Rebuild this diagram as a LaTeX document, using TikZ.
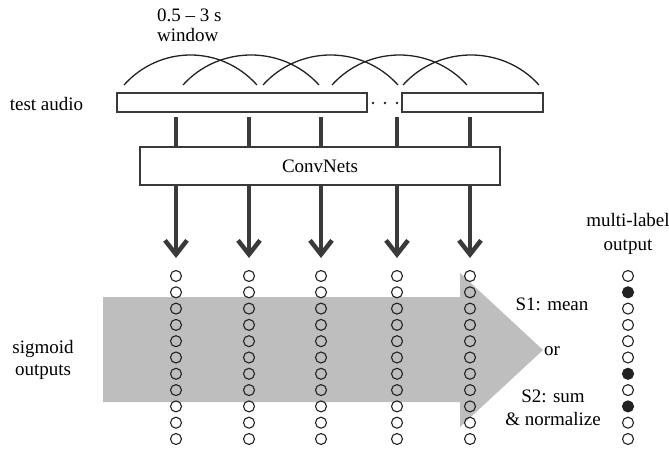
\documentclass[tikz,border=0pt]{standalone}
\usepackage{fontspec}
\setmainfont{Liberation Serif}
\usetikzlibrary{arrows.meta}
\definecolor{lineg}{HTML}{3A3A3A}
\definecolor{arrowgray}{HTML}{BEBEBE}
\definecolor{dotink}{HTML}{222222}
\begin{document}
\begin{tikzpicture}[x=1pt,y=-1pt,
  lbl/.style={font=\fontsize{19}{21}\selectfont, inner sep=0pt, anchor=base, text=black},
  boxstyle/.style={draw=lineg, line width=2pt, fill=white, inner sep=0pt},
  feed/.style={draw=lineg, line width=4.5pt},
  outarrow/.style={draw=lineg, line width=4.5pt, -{Straight Barb[length=14pt,width=22pt]}},
  arcline/.style={draw=dotink, line width=1.3pt},
  dot/.style={circle, draw=dotink, line width=1.1pt, minimum size=11pt, inner sep=0pt},
  hotdot/.style={dot, fill=dotink}
]
\useasboundingbox (0,0) rectangle (669,449);

% windows (arcs)
\foreach \a/\b in {124/257, 183/319, 263/398, 332/467, 403/539}
  \draw[arcline] (\a,85) .. controls +(36,-40) and +(-36,-40) .. (\b,85);

\node[lbl, anchor=base west] (winA) at (157,22) {0.5 -- 3 s};
\node[lbl, anchor=base west] (winB) at (157,42) {window};

% test audio
\node[lbl] (tal) at (46.5,111) {test audio};
\node[boxstyle, minimum width=250pt, minimum height=19pt] (audio1) at (242,102.5) {};
\node[boxstyle, minimum width=141pt, minimum height=19pt] (audio2) at (472.5,102.5) {};
\foreach \i/\x in {1/373,2/385,3/397}
  \fill[dotink] (\x,103) circle (1.3pt);

% ConvNets
\node[boxstyle, minimum width=360pt, minimum height=38pt] (convnet) at (320,166) {};
\node[lbl] (cnl) at (320,173) {ConvNets};

% gray aggregation arrow
\fill[arrowgray] (103,297) -- (460,297) -- (460,273) -- (543,350) -- (460,427) -- (460,402) -- (103,402) -- cycle;

% connectors and sigmoid output columns
\foreach \c/\x in {1/176,2/249,3/321,4/397,5/470}{
  \coordinate (s\c) at (\x,117);
  \coordinate (t\c) at (\x,258);
  \draw[feed] (s\c) -- (s\c |- convnet.north);
  \draw[outarrow] (s\c |- convnet.south) -- (t\c);
  \foreach \i in {0,...,10}
    \node[dot] (c\c-\i) at (\x,{276+16.3*\i}) {};
}

% multi-label output column
\foreach \i in {0,...,10}{
  \ifnum\i=1 \def\st{hotdot}\else\ifnum\i=6 \def\st{hotdot}\else\ifnum\i=8 \def\st{hotdot}\else\def\st{dot}\fi\fi\fi
  \node[\st] (o\i) at (628,{276+16.3*\i}) {};
}

\node[lbl] (ml1) at (628,226) {multi-label};
\node[lbl] (ml2) at (628,250) {output};

\node[lbl] (sg1) at (43,353) {sigmoid};
\node[lbl] (sg2) at (43,375) {outputs};

\node[lbl] (s1l) at (552,310) {S1: mean};
\node[lbl] (orl) at (552,355) {or};
\node[lbl] (s2a) at (553,402) {S2: sum};
\node[lbl] (s2b) at (553,425) {\& normalize};
\end{tikzpicture}
\end{document}
